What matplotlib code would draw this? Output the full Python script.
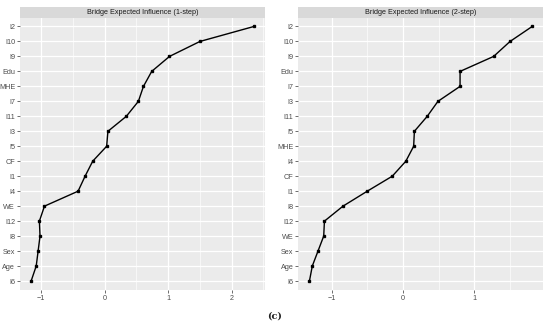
import matplotlib
matplotlib.use("Agg")
import matplotlib.pyplot as plt
from matplotlib.ticker import MultipleLocator
import numpy as np

plt.rcParams['font.family'] = ['Liberation Sans', 'DejaVu Sans']

# Data (top to bottom order as displayed)
labels_1step = ["I2", "I10", "I9", "Edu", "MHE", "I7", "I11", "I3", "I5",
                "CF", "I1", "I4", "WE", "I12", "I8", "Sex", "Age", "I6"]
values_1step = [2.35, 1.50, 1.02, 0.74, 0.61, 0.53, 0.34, 0.05, 0.03,
                -0.19, -0.31, -0.42, -0.95, -1.03, -1.02, -1.05, -1.08, -1.16]

labels_2step = ["I2", "I10", "I9", "Edu", "I7", "I3", "I11", "I5", "MHE",
                "I4", "CF", "I1", "I8", "I12", "WE", "Sex", "Age", "I6"]
values_2step = [1.81, 1.50, 1.27, 0.80, 0.80, 0.49, 0.34, 0.16, 0.15,
                0.04, -0.15, -0.50, -0.84, -1.10, -1.11, -1.19, -1.27, -1.31]

titles = ["Bridge Expected Influence (1-step)", "Bridge Expected Influence (2-step)"]
xticks_list = [[-1, 0, 1, 2], [-1, 0, 1]]

W, H = 550, 331
fig = plt.figure(figsize=(W / 100, H / 100), dpi=100)

panels = [
    (20.0, labels_1step, values_1step),
    (298.3, labels_2step, values_2step),
]
pw = 245.0
ptop, pbot = 17.5, 290.0
strip_top = 7.0

for i, (x0, labs, vals) in enumerate(panels):
    ax = fig.add_axes([x0 / W, 1 - pbot / H, pw / W, (pbot - ptop) / H])
    n = len(labs)
    y = np.arange(n)[::-1]
    ax.set_facecolor("#EBEBEB")
    ax.plot(vals, y, color="black", lw=1.0, zorder=3)
    ax.plot(vals, y, "s", color="black", ms=1.8, zorder=4)
    vmin, vmax = min(vals), max(vals)
    pad = 0.05 * (vmax - vmin)
    ax.set_xlim(vmin - pad, vmax + pad)
    ax.set_ylim(-0.6, n - 0.4)
    ax.set_yticks(y)
    ax.set_yticklabels(labs)
    ax.set_xticks(xticks_list[i])
    ax.xaxis.set_minor_locator(MultipleLocator(0.5))
    ax.grid(True, which="major", color="white", lw=0.9)
    ax.grid(True, which="minor", axis="x", color="white", lw=0.45)
    ax.set_axisbelow(True)
    for s in ax.spines.values():
        s.set_visible(False)
    ax.tick_params(axis="both", which="major", labelsize=5.2, colors="#4D4D4D",
                   length=2, width=0.5, pad=1.5)
    ax.tick_params(axis="both", which="minor", length=0)
    ax.tick_params(axis="both", color="#333333")
    # strip
    sax = fig.add_axes([x0 / W, 1 - ptop / H, pw / W, (ptop - strip_top) / H])
    sax.set_facecolor("#D9D9D9")
    sax.set_xticks([])
    sax.set_yticks([])
    for s in sax.spines.values():
        s.set_visible(False)
    sax.text(0.5, 0.5, titles[i], ha="center", va="center", fontsize=5.2,
             color="#1A1A1A", transform=sax.transAxes)

fig.text(0.5, 1 - 316 / H, "(c)", ha="center", va="center", fontsize=7,
         fontweight="bold", family="DejaVu Serif", color="#222222")

fig.savefig("out.png", dpi=100, facecolor="white")
